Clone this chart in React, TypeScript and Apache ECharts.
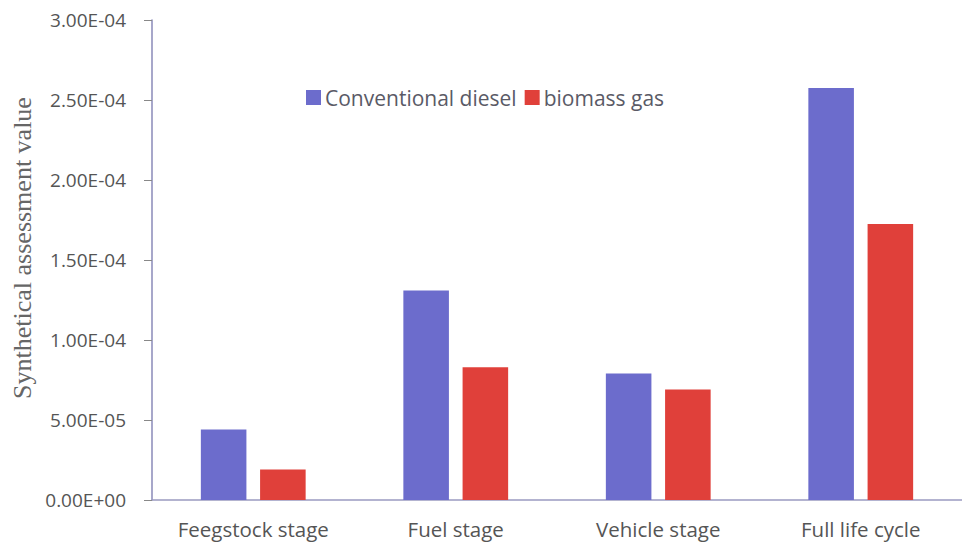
import React, { useEffect, useRef } from "react";
import * as echarts from "echarts";

const categories = ["Feegstock stage", "Fuel stage", "Vehicle stage", "Full life cycle"];
const dieselValues = [4.4e-5, 1.31e-4, 7.9e-5, 2.575e-4];
const biomassValues = [1.9e-5, 8.3e-5, 6.9e-5, 1.725e-4];
const seriesNames = ["Conventional diesel", "biomass gas"];
const yAxisTitle = "Synthetical assessment value";

function fmt(v: number): string {
  if (v === 0) return "0.00E+00";
  const s = v.toExponential(2).toUpperCase();
  const [m, e] = s.split("E");
  const sign = e[0] === "-" ? "-" : "+";
  const digits = e.replace(/[+-]/, "").padStart(2, "0");
  return `${m}E${sign}${digits}`;
}

export default function App() {
  const ref = useRef<HTMLDivElement>(null);
  useEffect(() => {
    if (!ref.current) return;
    const chart = echarts.init(ref.current, null, { renderer: "svg" });
    chart.setOption({
      animation: false,
      backgroundColor: "#ffffff",
      grid: { left: 152, right: -6, top: 20, bottom: 45, containLabel: false },
      legend: {
        data: seriesNames,
        left: 301,
        top: 82,
        itemWidth: 15,
        itemHeight: 15,
        itemGap: 8,
        icon: "rect",
        textStyle: { fontFamily: "Open Sans", fontSize: 21, color: "#5a5a66", padding: [0, 0, 0, -1] },
      },
      graphic: [
        {
          type: "text",
          x: 22,
          y: 248,
          rotation: Math.PI / 2,
          style: {
            text: yAxisTitle,
            fontFamily: "Liberation Serif",
            fontSize: 26,
            fill: "#666",
            align: "center",
            verticalAlign: "middle",
          },
        },
      ],
      xAxis: {
        type: "category",
        data: categories,
        axisLine: { lineStyle: { color: "#9a9ac0", width: 1.5 } },
        axisTick: { alignWithLabel: true, length: 6, lineStyle: { color: "#888" } },
        axisLabel: { fontFamily: "Open Sans", fontSize: 20.5, color: "#555", margin: 18 },
      },
      yAxis: {
        type: "value",
        min: 0,
        max: 3e-4,
        interval: 5e-5,
        axisLine: { show: true, lineStyle: { color: "#8a8ab8", width: 1.5 } },
        axisTick: { show: true, inside: false, length: 8, lineStyle: { color: "#888" } },
        splitLine: { show: false },
        axisLabel: {
          fontFamily: "Open Sans",
          fontSize: 19,
          color: "#555",
          margin: 26,
          formatter: (v: number) => fmt(v),
        },
      },
      series: [
        {
          name: seriesNames[0],
          type: "bar",
          data: dieselValues,
          barWidth: "22.5%",
          barGap: "30%",
          itemStyle: { color: "#6c6ccc" },
        },
        {
          name: seriesNames[1],
          type: "bar",
          data: biomassValues,
          barWidth: "22.5%",
          barGap: "30%",
          itemStyle: { color: "#e0403a" },
        },
      ],
    });
    return () => chart.dispose();
  }, []);
  return (
    <div
      ref={ref}
      style={{ position: "fixed", left: 0, top: 0, width: 962, height: 545 }}
    />
  );
}
